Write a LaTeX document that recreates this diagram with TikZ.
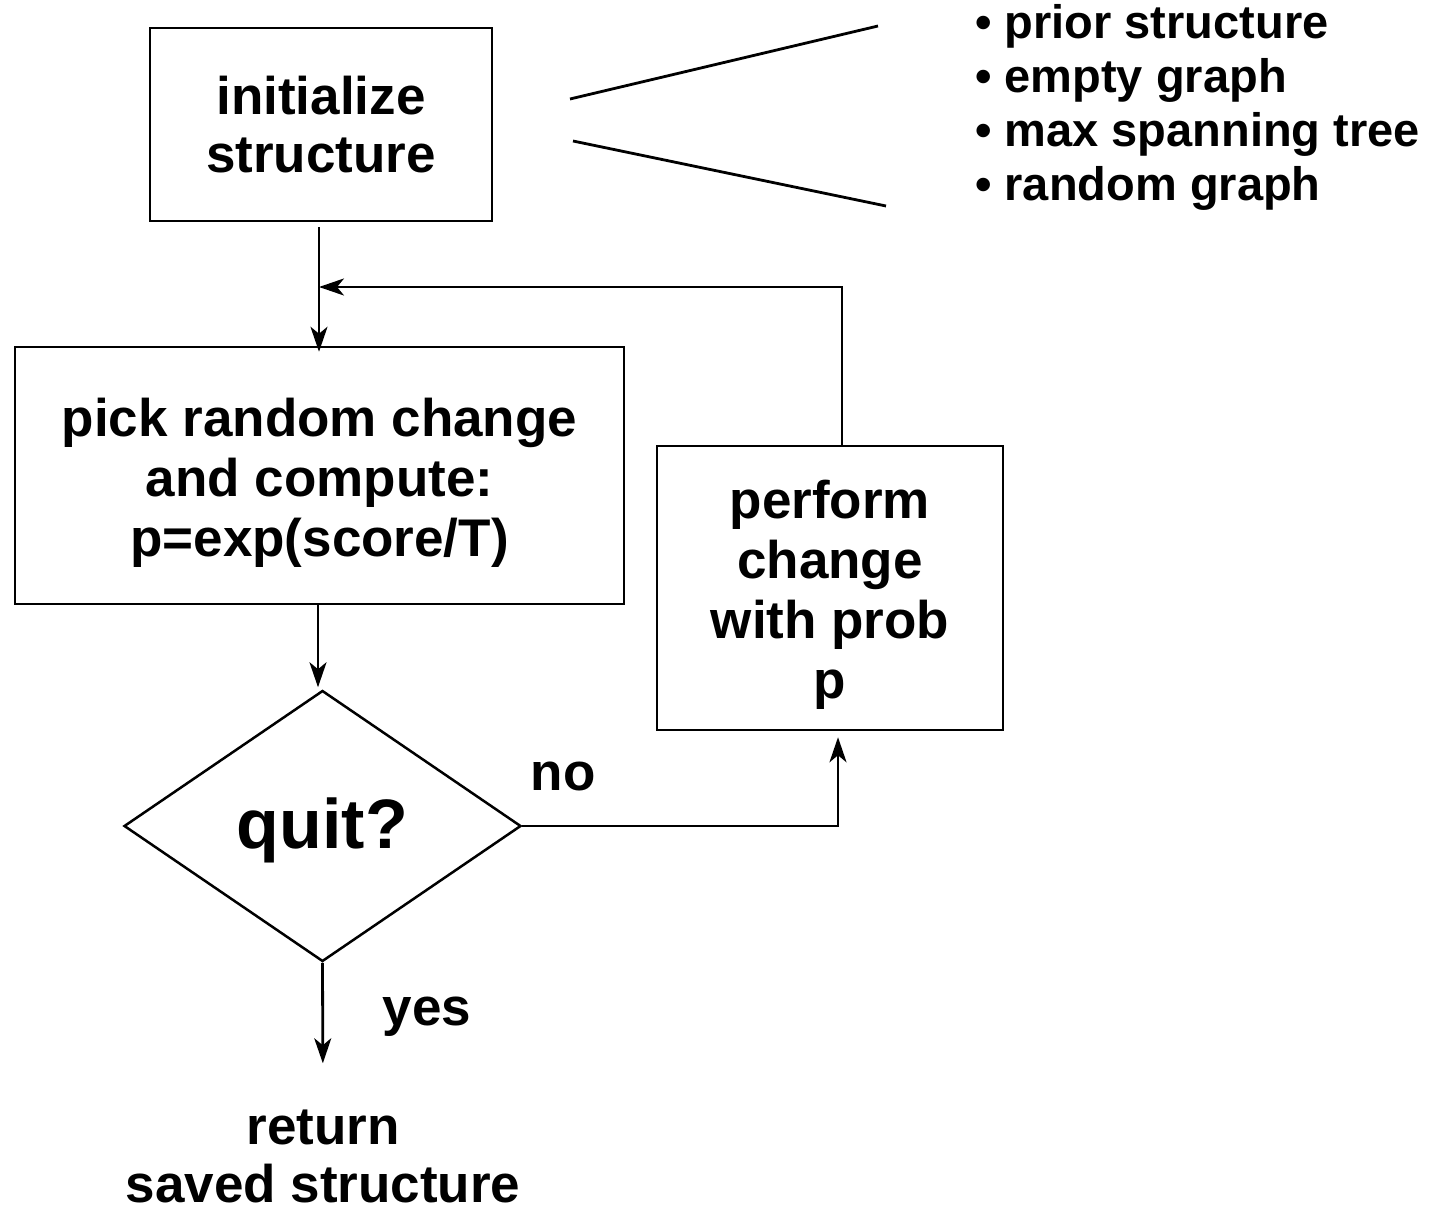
\documentclass[tikz,border=0pt]{standalone}
\usepackage{fontspec}
\setmainfont{Liberation Sans}
\usetikzlibrary{shapes.geometric,arrows.meta}
\newcommand{\toppad}{\rule{0pt}{52pt}}
\tikzset{
  txt/.style={font=\fontsize{53}{60}\selectfont\bfseries, align=center, inner sep=0pt},
  box/.style={draw, line width=2.5pt, rectangle, inner sep=0pt, txt},
  conn/.style={line width=2.8pt},
  arr/.style={conn, -{Stealth[length=25pt, width=17pt, inset=7pt]}},
}
\begin{document}
\begin{tikzpicture}[x=1pt, y=-1pt]
\useasboundingbox (0,0) rectangle (1438,1207);

% process boxes
\node[box, minimum width=342pt, minimum height=193pt] (init) at (321,124.5)
  {initialize\\[-2pt]structure};
\node[box, minimum width=609pt, minimum height=257pt] (pick) at (319.5,475.5)
  {\toppad pick random change\\and compute:\\p=exp(score/T)};
\node[box, minimum width=346pt, minimum height=284pt] (perform) at (830,588)
  {\toppad perform\\change\\with prob\\p};

% decision
\node[draw, line width=2.5pt, diamond, minimum width=397pt, minimum height=271pt,
  inner sep=0pt, text height=50pt, text depth=6pt,
  font=\fontsize{70}{80}\selectfont\bfseries] (quit) at (322.5,826) {quit?};

% result
\node[txt, align=center] (ret) at (323,1156) {return\\[-2pt]saved structure};

% initialization options
\node[txt, anchor=west, align=left, font=\fontsize{47}{54}\selectfont\bfseries] (opts) at (975,107)
  {\textbullet\ prior structure\\\textbullet\ empty graph\\\textbullet\ max spanning tree\\\textbullet\ random graph};

% fan lines towards the option list
\coordinate (fa1) at (570,99);
\coordinate (fb1) at (878,26);
\coordinate (fa2) at (573,141);
\coordinate (fb2) at (886,206);
\draw[conn] (fa1) -- (fb1);
\draw[conn] (fa2) -- (fb2);

% main flow
\draw[arr, shorten <=5pt, shorten >=-6pt] ([xshift=-2pt]init.south) -- ([xshift=-0.5pt]pick.north);
\coordinate (join) at (319,287);
\draw[arr] ([xshift=12pt]perform.north) |- (join);
\draw[arr, shorten >=2pt] ([xshift=-1.5pt]pick.south) -- ([xshift=-4.5pt]quit.north);
\draw[arr, shorten >=6pt] (quit.east) -| ([xshift=8pt]perform.south);
\draw[arr, shorten >=46pt] (quit.south) -- (ret.north);

% branch labels
\node[txt] (no) at (563,776) {no};
\node[txt] (yes) at (427,1017) {yes};
\end{tikzpicture}
\end{document}
